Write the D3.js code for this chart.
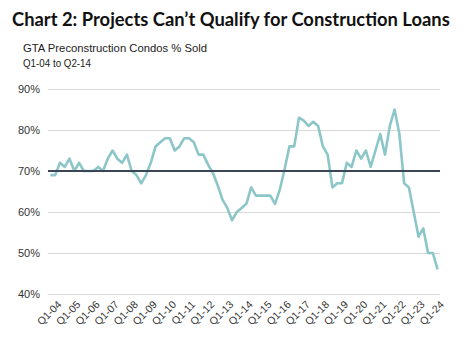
<!DOCTYPE html>
<html>
<head>
<meta charset="utf-8">
<script src="https://cdn.jsdelivr.net/npm/d3@7/dist/d3.min.js"></script>
<style>
  html, body { margin: 0; padding: 0; background: #fff; }
  svg { display: block; }
</style>
</head>
<body>
<svg id="chart" width="468" height="344"></svg>
<script>
// Quarterly share of GTA preconstruction condo units sold, Q1-04 .. Q2-24
const years = d3.range(2004, 2025);
const quarters = years.flatMap(y => [1, 2, 3, 4].map(q => `Q${q}-${String(y % 100).padStart(2, "0")}`)).slice(0, 82);

const pctSold = [
  69, 69, 72, 71, 73, 70, 72, 70,   // 2004-05
  70, 70, 71, 70, 73, 75, 73, 72,   // 2006-07
  74, 70, 69, 67, 69, 72, 76, 77,   // 2008-09
  78, 78, 75, 76, 78, 78, 77, 74,   // 2010-11
  74, 71.5, 69.5, 66.5, 63, 61, 58, 60, // 2012-13
  61, 62, 66, 64, 64, 64, 64, 62,   // 2014-15
  65.5, 70.5, 76, 76, 83, 82.3, 81, 82, // 2016-17
  81, 76, 74, 66, 67, 67, 72, 71,   // 2018-19
  75, 73, 75, 71, 75, 79, 74, 81,   // 2020-21
  85, 79, 67, 66, 60, 54, 56, 50,   // 2022-23
  50, 46                            // 2024
];

const yTicks = [40, 50, 60, 70, 80, 90];
const threshold = 70;
const tickLabels = quarters.filter(q => q.startsWith("Q1-"));

const svg = d3.select("#chart");

// Headings: size the title so it spans the full width
const title = svg.append("text")
  .attr("x", 12).attr("y", 26)
  .attr("font-family", "Lato, 'Open Sans', sans-serif")
  .attr("font-weight", 700)
  .attr("font-size", 20)
  .attr("fill", "#111")
  .text("Chart 2: Projects Can\u2019t Qualify for Construction Loans");
const titleLen = title.node().getComputedTextLength();
title.attr("font-size", Math.min(21, 20 * 438 / titleLen));

svg.append("text")
  .attr("x", 23).attr("y", 52)
  .attr("font-family", "'Liberation Sans', Arial, sans-serif")
  .attr("font-size", 11.5)
  .attr("textLength", 184)
  .attr("lengthAdjust", "spacingAndGlyphs")
  .attr("fill", "#222")
  .text("GTA Preconstruction Condos % Sold");

svg.append("text")
  .attr("x", 23).attr("y", 66.5)
  .attr("font-family", "'Liberation Sans', Arial, sans-serif")
  .attr("font-size", 10.5)
  .attr("textLength", 68)
  .attr("lengthAdjust", "spacingAndGlyphs")
  .attr("fill", "#222")
  .text("Q1-04 to Q2-14");

// Scales
const x = d3.scalePoint().domain(quarters).range([48, 440]).padding(0.5);
const y = d3.scaleLinear().domain([40, 90]).range([294, 89]);

// Gridlines and value labels
const yAxis = d3.axisLeft(y)
  .tickValues(yTicks)
  .tickSize(-(440 - 48))
  .tickPadding(8)
  .tickFormat(d => d + "%");

const gy = svg.append("g").attr("transform", "translate(48,0)").call(yAxis);
gy.select(".domain").remove();
gy.selectAll(".tick line").attr("stroke", "#d9d9d9").attr("stroke-width", 1.2);
gy.selectAll(".tick text")
  .attr("font-family", "'Liberation Sans', Arial, sans-serif")
  .attr("font-size", 11)
  .attr("fill", "#333");

// Category labels, one per year
const xAxis = d3.axisBottom(x).tickValues(tickLabels).tickSize(0).tickPadding(0);
const gx = svg.append("g").attr("transform", "translate(0,300)").call(xAxis);
gx.select(".domain").remove();
gx.selectAll(".tick text")
  .attr("font-family", "'Liberation Sans', Arial, sans-serif")
  .attr("font-size", 10.5)
  .attr("fill", "#333")
  .attr("text-anchor", "end")
  .attr("dy", "0.7em")
  .attr("transform", "translate(6,0) rotate(-45)");

// Series
const line = d3.line()
  .x((d, i) => x(quarters[i]))
  .y(d => y(d));

svg.append("path")
  .datum(pctSold)
  .attr("fill", "none")
  .attr("stroke", "#8cc6c8")
  .attr("stroke-width", 2.6)
  .attr("stroke-linejoin", "round")
  .attr("d", line);

// 70% reference line
svg.append("line")
  .attr("x1", 48).attr("x2", 440)
  .attr("y1", y(threshold)).attr("y2", y(threshold))
  .attr("stroke", "#3b4654")
  .attr("stroke-width", 2);
</script>
</body>
</html>
